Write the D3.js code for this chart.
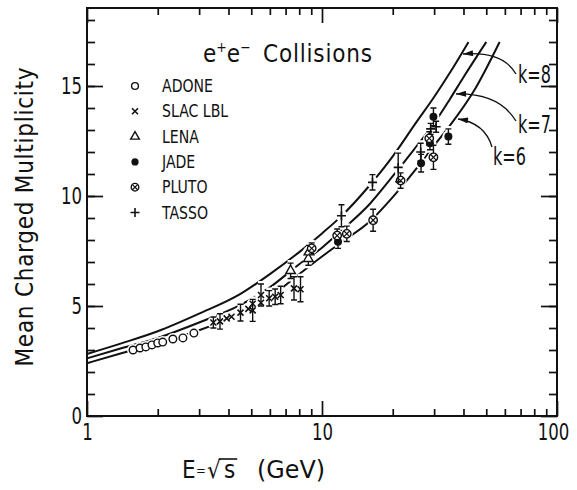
<!DOCTYPE html>
<html>
<head>
<meta charset="utf-8">
<script src="https://cdnjs.cloudflare.com/ajax/libs/d3/7.8.5/d3.min.js"></script>
<style>
	body { margin: 0; background: #fff; }
	svg { display: block; }
	text { font-family: "DejaVu Sans Condensed", "DejaVu Sans", sans-serif; font-stretch: condensed; fill: #111; }
</style>
</head>
<body>
<script>
// model curves, [E (GeV), mean multiplicity]
var curveK8 = [[1,2.82],[1.4,3.3],[2,3.85],[3,4.65],[4.5,5.55],[6,6.45],[8,7.45],[10,8.3],[12,9.05],[16,10.5],[20,11.8],[25,13.3],[30,14.5],[35,15.6],[42,17.0]];
var curveK7 = [[1,2.62],[1.4,3.08],[2,3.55],[3,4.25],[4.5,5.05],[6,5.85],[8,6.9],[10,7.65],[12,8.4],[16,9.65],[20,10.9],[25,12.2],[30,13.3],[35,14.4],[40,15.4],[50,17.0]];
var curveK6 = [[1,2.4],[1.4,2.85],[2,3.33],[3,3.9],[4.5,4.65],[6,5.4],[8,6.45],[10,7.25],[12,7.87],[16,8.85],[20,9.95],[25,11.2],[30,12.3],[35,13.2],[45,14.9],[57,17.0]];
var curveNames = ["k=8", "k=7", "k=6"];

// measurements, [E, <n>, error]
var adone = [[1.57,3.0,0],[1.68,3.09,0],[1.78,3.14,0],[1.89,3.23,0],[2.0,3.32,0],[2.1,3.36,0],[2.32,3.5,0],[2.56,3.55,0],[2.85,3.77,0]];
var slacLbl = [[3.45,4.25,0.25],[3.68,4.3,0.35],[3.93,4.44,0],[4.12,4.51,0],[4.5,4.7,0.38],[4.86,4.87,0],[5.07,4.8,0.5],[5.07,5.1,0],[5.5,5.5,0.5],[5.5,5.15,0],[5.96,5.35,0.35],[6.32,5.42,0.35],[6.67,5.5,0.4],[7.6,5.8,0.53],[8.1,5.76,0.57]];
var lena = [[7.35,6.6,0.35],[8.75,7.15,0.3],[8.8,7.45,0.3]];
var jade = [[11.7,7.92,0.3],[26.4,11.49,0.4],[28.8,12.4,0.3],[29.8,13.6,0.4],[34.5,12.7,0.35]];
var pluto = [[9.04,7.62,0.25],[11.6,8.2,0.3],[12.75,8.28,0.35],[16.5,8.9,0.5],[21.6,10.7,0.35],[28.6,12.62,0.3],[29.8,11.76,0.55]];
var tasso = [[12.1,9.1,0.5],[16.4,10.62,0.35],[21.1,11.3,0.65],[26.3,12.0,0.4],[29.0,13.05,0.25],[30.6,13.15,0.25]];
var experiments = ["ADONE", "SLAC LBL", "LENA", "JADE", "PLUTO", "TASSO"];

// axis ticks
var xMajor = [1, 10, 100];
var xMinor = [2,3,4,5,6,7,8,9,20,30,40,50,60,70,80,90];
var yMajor = [0, 5, 10, 15];
var yMinor = d3.range(1, 19);

(function() {

	var width = 577;
	var height = 490;
	var left = 87, right = 557, top = 8, bottom = 416;

	var svg = d3.select("body")
		.append("svg")
		.attr("width", width)
		.attr("height", height);

	var x = d3.scaleLog()
		.domain([1, 100])
		.range([left, right]);

	var y = d3.scaleLinear()
		.domain([0, (bottom - top) / 22])
		.range([bottom, top]);

	// squeeze text horizontally, the original lettering is a narrow face
	function condense(sel, ratio) {
		sel.each(function() {
			var w = this.getComputedTextLength();
			d3.select(this)
				.attr("textLength", w * ratio)
				.attr("lengthAdjust", "spacingAndGlyphs");
		});
	}

	// ticks point inwards on all four sides, long on decades / multiples of 5
	function strip(g) {
		g.select(".domain").remove();
		g.selectAll(".tick line").attr("stroke", "#111").attr("stroke-width", 1.7);
		g.attr("font-size", 23);
		condense(g.selectAll("text"), 0.8);
	}

	svg.append("g")
		.attr("transform", "translate(0," + bottom + ")")
		.call(d3.axisBottom(x).tickValues(xMajor).tickSizeInner(-15).tickSizeOuter(0).tickPadding(8).tickFormat(d3.format("d")))
		.call(strip)
		.selectAll("text")
		.attr("dx", function(d) { return d == 100 ? -4 : 0; });
	svg.append("g")
		.attr("transform", "translate(0," + bottom + ")")
		.call(d3.axisBottom(x).tickValues(xMinor).tickSizeInner(-7).tickSizeOuter(0).tickFormat(""))
		.call(strip);
	svg.append("g")
		.attr("transform", "translate(0," + top + ")")
		.call(d3.axisTop(x).tickValues(xMajor).tickSizeInner(-15).tickSizeOuter(0).tickFormat(""))
		.call(strip);
	svg.append("g")
		.attr("transform", "translate(0," + top + ")")
		.call(d3.axisTop(x).tickValues(xMinor).tickSizeInner(-7).tickSizeOuter(0).tickFormat(""))
		.call(strip);

	svg.append("g")
		.attr("transform", "translate(" + left + ",0)")
		.call(d3.axisLeft(y).tickValues(yMajor).tickSizeInner(-16).tickSizeOuter(0).tickPadding(5))
		.call(strip);
	svg.append("g")
		.attr("transform", "translate(" + left + ",0)")
		.call(d3.axisLeft(y).tickValues(yMinor).tickSizeInner(-8).tickSizeOuter(0).tickFormat(""))
		.call(strip);
	svg.append("g")
		.attr("transform", "translate(" + right + ",0)")
		.call(d3.axisRight(y).tickValues(yMajor).tickSizeInner(-16).tickSizeOuter(0).tickFormat(""))
		.call(strip);
	svg.append("g")
		.attr("transform", "translate(" + right + ",0)")
		.call(d3.axisRight(y).tickValues(yMinor).tickSizeInner(-8).tickSizeOuter(0).tickFormat(""))
		.call(strip);

	// frame
	svg.append("rect")
		.attr("x", left)
		.attr("y", top)
		.attr("width", right - left)
		.attr("height", bottom - top)
		.attr("fill", "none")
		.attr("stroke", "#111")
		.attr("stroke-width", 2);

	// curves
	var line = d3.line()
		.x(function(d) { return x(d[0]); })
		.y(function(d) { return y(d[1]); })
		.curve(d3.curveMonotoneX);

	svg.selectAll(".curve")
		.data([curveK8, curveK7, curveK6])
	.enter().append("path")
		.attr("class", "curve")
		.attr("d", line)
		.attr("fill", "none")
		.attr("stroke", "#111")
		.attr("stroke-width", 2);

	// marker shapes
	function drawMarker(g, type, s) {
		if (type == "ADONE") {
			g.append("circle").attr("r", 3.8 * s).attr("fill", "#fff").attr("stroke", "#111").attr("stroke-width", 1.4);
		} else if (type == "SLAC LBL") {
			g.append("path").attr("d", "M-3,-3L3,3M-3,3L3,-3").attr("stroke", "#111").attr("stroke-width", 1.6);
		} else if (type == "LENA") {
			g.append("path").attr("d", d3.symbol(d3.symbolTriangle, 40 * s * s)()).attr("fill", "#fff").attr("stroke", "#111").attr("stroke-width", 1.4);
		} else if (type == "JADE") {
			g.append("circle").attr("r", 4 * s).attr("fill", "#111");
		} else if (type == "PLUTO") {
			g.append("circle").attr("r", 4.2 * s).attr("fill", "#fff").attr("stroke", "#111").attr("stroke-width", 1.4);
			g.append("path").attr("d", "M-2.8,-2.8L2.8,2.8M-2.8,2.8L2.8,-2.8").attr("stroke", "#111").attr("stroke-width", 1.2);
		} else if (type == "TASSO") {
			g.append("path").attr("d", "M-4.5,0H4.5M0,-4.5V4.5").attr("stroke", "#111").attr("stroke-width", 1.6);
		}
	}

	function errPath(d) {
		var y0 = y(d[1] - d[2]), y1 = y(d[1] + d[2]), cx = x(d[0]);
		return "M" + (cx - 3) + "," + y0 + "H" + (cx + 3) + "M" + cx + "," + y0 + "V" + y1 +
			"M" + (cx - 3) + "," + y1 + "H" + (cx + 3);
	}

	var sets = [adone, slacLbl, lena, jade, pluto, tasso];

	// white halos cut the curves where the points sit on them
	var halo = svg.append("g");
	sets.forEach(function(set) {
		halo.selectAll(null)
			.data(set.filter(function(d) { return d[2] > 0; }))
		.enter().append("path")
			.attr("d", errPath)
			.attr("stroke", "#fff")
			.attr("stroke-width", 6);
		halo.selectAll(null)
			.data(set)
		.enter().append("circle")
			.attr("cx", function(d) { return x(d[0]); })
			.attr("cy", function(d) { return y(d[1]); })
			.attr("r", 6)
			.attr("fill", "#fff");
	});

	sets.forEach(function(set, i) {
		svg.append("g").selectAll("path")
			.data(set.filter(function(d) { return d[2] > 0; }))
		.enter().append("path")
			.attr("d", errPath)
			.attr("fill", "none")
			.attr("stroke", "#111")
			.attr("stroke-width", 1.4);

		svg.append("g").selectAll("g")
			.data(set)
		.enter().append("g")
			.attr("transform", function(d) { return "translate(" + x(d[0]) + "," + y(d[1]) + ")"; })
			.each(function() { drawMarker(d3.select(this), experiments[i], 1); });
	});

	// legend
	var legend = svg.selectAll(".legend")
		.data(experiments)
	.enter().append("g")
		.attr("class", "legend")
		.attr("transform", function(d, i) { return "translate(135," + (86 + i * 25.3) + ")"; });

	legend.each(function(d) { drawMarker(d3.select(this), d, 0.9); });

	var legendText = legend.append("text")
		.attr("x", 27)
		.attr("dy", "0.36em")
		.attr("font-size", 17)
		.text(function(d) { return d; });
	var adoneWidth = legendText.node().getComputedTextLength();
	condense(legendText, 51 / adoneWidth);

	// title
	var title = svg.append("text")
		.attr("x", 203)
		.attr("y", 62)
		.attr("font-size", 24);
	title.append("tspan").text("e");
	title.append("tspan").attr("dy", -10).attr("font-size", 14).text("+");
	title.append("tspan").attr("dy", 10).text("e");
	title.append("tspan").attr("dy", -10).attr("font-size", 14).text("\u2212");
	title.append("tspan").attr("x", 263).attr("dy", 10).attr("textLength", 109).text("Collisions");

	// curve labels with curved leader arrows
	svg.append("defs").append("marker")
		.attr("id", "arrow")
		.attr("viewBox", "0 0 10 6")
		.attr("refX", 10)
		.attr("refY", 3)
		.attr("markerWidth", 11)
		.attr("markerHeight", 6)
		.attr("markerUnits", "userSpaceOnUse")
		.attr("orient", "auto")
	.append("path")
		.attr("d", "M0,0L10,3L0,6Z")
		.attr("fill", "#111");

	var notes = [
		{ label: curveNames[0], tx: 518, ty: 83, from: [516, 74], ctrl: [503, 51], tip: [463, 54] },
		{ label: curveNames[1], tx: 518, ty: 133, from: [516, 121], ctrl: [499, 93], tip: [456, 94] },
		{ label: curveNames[2], tx: 493, ty: 165, from: [492, 147], ctrl: [485, 123], tip: [458, 119] }
	];

	svg.selectAll(".note")
		.data(notes)
	.enter().append("path")
		.attr("class", "note")
		.attr("d", function(d) { return "M" + d.from + "Q" + d.ctrl + " " + d.tip; })
		.attr("fill", "none")
		.attr("stroke", "#111")
		.attr("stroke-width", 1.3)
		.attr("marker-end", "url(#arrow)");

	svg.selectAll(".noteText")
		.data(notes)
	.enter().append("text")
		.attr("class", "noteText")
		.attr("x", function(d) { return d.tx; })
		.attr("y", function(d) { return d.ty; })
		.attr("font-size", 24)
		.attr("textLength", 33)
		.attr("lengthAdjust", "spacingAndGlyphs")
		.text(function(d) { return d.label; });

	// axis titles
	svg.append("text")
		.attr("transform", "translate(33,217) rotate(-90)")
		.attr("text-anchor", "middle")
		.attr("font-size", 24)
		.attr("textLength", 299)
		.attr("lengthAdjust", "spacing")
		.text("Mean Charged Multiplicity");

	var xt = svg.append("text")
		.attr("y", 478)
		.attr("font-size", 24);
	xt.append("tspan").attr("x", 182).text("E");
	xt.append("tspan").attr("x", 196).attr("font-size", 13).attr("dy", -3).text("=");
	xt.append("tspan").attr("x", 207).attr("dy", 3).text("\u221A");
	xt.append("tspan").attr("x", 224).text("s");
	xt.append("tspan").attr("x", 257).attr("textLength", 68).attr("lengthAdjust", "spacingAndGlyphs").text("(GeV)");

	// overline of the root sign over the s
	var rBox = xt.node().getExtentOfChar(2);
	var sBox = xt.node().getExtentOfChar(3);
	svg.append("path")
		.attr("d", "M" + (rBox.x + rBox.width - 2) + "," + (sBox.y + 3) + "H" + (sBox.x + sBox.width + 2))
		.attr("stroke", "#111")
		.attr("stroke-width", 1.6);

})();
</script>
</body>
</html>
